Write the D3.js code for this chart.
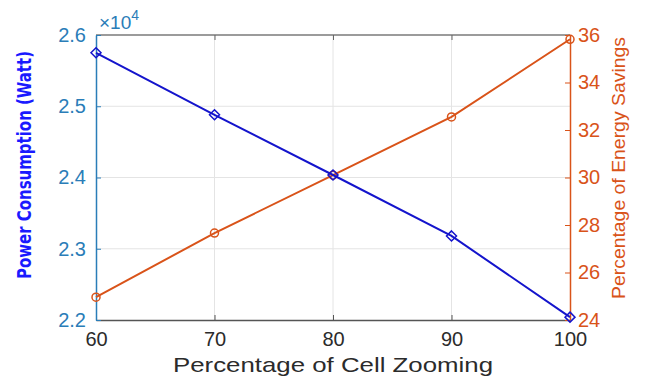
<!DOCTYPE html>
<html>
<head>
<meta charset="utf-8">
<script src="https://cdn.jsdelivr.net/npm/d3@7"></script>
<style>
  html, body { margin: 0; padding: 0; background: #fff; }
  svg { display: block; }
</style>
</head>
<body>
<svg id="chart" width="645" height="377"></svg>
<script>
// Cell zooming percentage (x axis)
const zoomPct = [60, 70, 80, 90, 100];
// Total power consumption in watts (left axis)
const powerWatt = [25750, 24880, 24035, 23180, 22040];
// Energy savings in percent (right axis)
const savingsPct = [24.96, 27.66, 30.1, 32.55, 35.82];

const xTicks = [60, 70, 80, 90, 100];
const leftTicks = [22000, 23000, 24000, 25000, 26000];
const rightTicks = [24, 26, 28, 30, 32, 34, 36];

const W = 645, H = 377;
const m = { left: 96, right: 75, top: 35, bottom: 57 };
const pw = W - m.left - m.right, ph = H - m.top - m.bottom;

const blueAxis = "#2a7db8";
const orange = "#d95319";
const blueLine = "#1414cc";
const font = "'Liberation Sans', Arial, Helvetica, sans-serif";
const tickSize = 20;

const svg = d3.select("#chart");
svg.append("rect").attr("width", W).attr("height", H).attr("fill", "#fff");

const g = svg.append("g").attr("transform", `translate(${m.left},${m.top})`);

const x = d3.scaleLinear().domain([60, 100]).range([0, pw]);
const yL = d3.scaleLinear().domain([22000, 26000]).range([ph, 0]);
const yR = d3.scaleLinear().domain([24, 36]).range([ph, 0]);

// Grid
const grid = g.append("g").attr("stroke", "#e4e4e4").attr("stroke-width", 1);
grid.selectAll("line.v").data(xTicks.slice(1, -1)).join("line")
  .attr("x1", d => x(d)).attr("x2", d => x(d)).attr("y1", 0).attr("y2", ph);
grid.selectAll("line.h").data(leftTicks.slice(1, -1)).join("line")
  .attr("y1", d => yL(d)).attr("y2", d => yL(d)).attr("x1", 0).attr("x2", pw);

// Box top
g.append("line").attr("x1", 0).attr("x2", pw).attr("y1", 0).attr("y2", 0)
  .attr("stroke", "#7a7a7a").attr("stroke-width", 1.5);

// Bottom axis
const xAxis = g.append("g").attr("transform", `translate(0,${ph})`)
  .call(d3.axisBottom(x).tickValues(xTicks).tickSizeInner(-5).tickSizeOuter(0).tickPadding(12));
xAxis.select(".domain").attr("stroke", "#555").attr("stroke-width", 1.5);
xAxis.selectAll(".tick line").attr("stroke", "#555");
xAxis.selectAll("text").attr("font-family", font).attr("font-size", tickSize).attr("fill", "#2b2b2b");

// Top tick marks
g.append("g").call(d3.axisTop(x).tickValues(xTicks).tickSizeInner(-5).tickSizeOuter(0).tickFormat(""))
  .call(a => a.select(".domain").remove())
  .selectAll(".tick line").attr("stroke", "#666");

// Left axis
const lAxis = g.append("g")
  .call(d3.axisLeft(yL).tickValues(leftTicks).tickSizeInner(-5).tickSizeOuter(0).tickPadding(10)
    .tickFormat(d => (d / 10000).toFixed(1)));
lAxis.select(".domain").attr("stroke", blueAxis).attr("stroke-width", 1.5);
lAxis.selectAll(".tick line").attr("stroke", blueAxis);
lAxis.selectAll("text").attr("font-family", font).attr("font-size", tickSize).attr("fill", blueAxis);

// Right axis
const rAxis = g.append("g").attr("transform", `translate(${pw},0)`)
  .call(d3.axisRight(yR).tickValues(rightTicks).tickSizeInner(-5).tickSizeOuter(0).tickPadding(8));
rAxis.select(".domain").attr("stroke", orange).attr("stroke-width", 1.5);
rAxis.selectAll(".tick line").attr("stroke", orange);
rAxis.selectAll("text").attr("font-family", font).attr("font-size", tickSize).attr("fill", orange);

// Exponent label
const expo = g.append("text").attr("x", 3).attr("y", -6)
  .attr("font-family", font).attr("font-size", 19).attr("fill", blueAxis);
expo.append("tspan").text("×10");
expo.append("tspan").attr("dy", -9).attr("font-size", 14).text("4");

// Energy savings series
g.append("path").datum(zoomPct.map((z, i) => [z, savingsPct[i]]))
  .attr("fill", "none").attr("stroke", orange).attr("stroke-width", 2)
  .attr("d", d3.line().x(d => x(d[0])).y(d => yR(d[1])));
g.selectAll("circle.sav").data(zoomPct.map((z, i) => [z, savingsPct[i]])).join("circle")
  .attr("cx", d => x(d[0])).attr("cy", d => yR(d[1])).attr("r", 4)
  .attr("fill", "none").attr("stroke", orange).attr("stroke-width", 1.5);

// Power consumption series
g.append("path").datum(zoomPct.map((z, i) => [z, powerWatt[i]]))
  .attr("fill", "none").attr("stroke", blueLine).attr("stroke-width", 2)
  .attr("d", d3.line().x(d => x(d[0])).y(d => yL(d[1])));
g.selectAll("path.pow").data(zoomPct.map((z, i) => [z, powerWatt[i]])).join("path")
  .attr("transform", d => `translate(${x(d[0])},${yL(d[1])})`)
  .attr("d", "M0,-5L5,0L0,5L-5,0Z")
  .attr("fill", "none").attr("stroke", blueLine).attr("stroke-width", 1.5);

// Axis titles
svg.append("text").attr("x", 333).attr("y", 372).attr("text-anchor", "middle")
  .attr("font-family", font).attr("font-size", 21).attr("fill", "#2b2b2b")
  .attr("textLength", 320).attr("lengthAdjust", "spacingAndGlyphs")
  .text("Percentage of Cell Zooming");

svg.append("text").attr("transform", "translate(31,165) rotate(-90)")
  .attr("text-anchor", "middle")
  .attr("font-family", "'Liberation Sans Narrow', 'DejaVu Sans Condensed', Arial, sans-serif")
  .attr("font-weight", "bold").attr("font-size", 20).attr("fill", "#1a1aff")
  .attr("textLength", 228).attr("lengthAdjust", "spacingAndGlyphs")
  .text("Power Consumption (Watt)");

svg.append("text").attr("transform", "translate(625,168) rotate(-90)")
  .attr("text-anchor", "middle")
  .attr("font-family", font).attr("font-size", 19).attr("fill", orange)
  .attr("textLength", 262).attr("lengthAdjust", "spacingAndGlyphs")
  .text("Percentage of Energy Savings");
</script>
</body>
</html>
